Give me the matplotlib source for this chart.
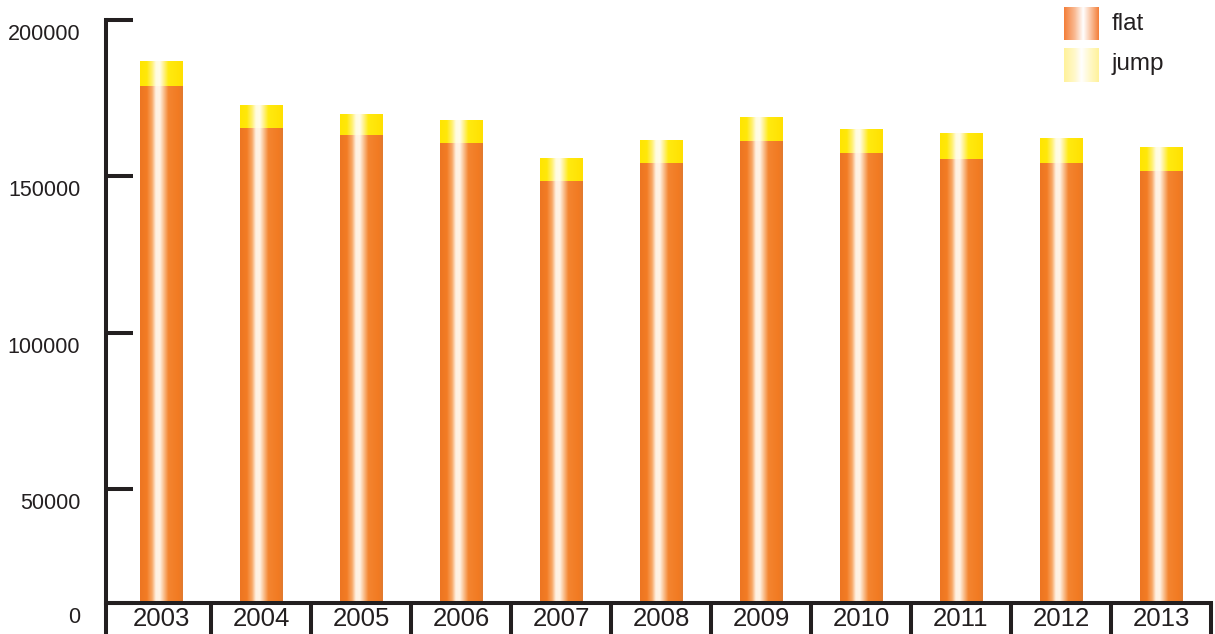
import numpy as np
import matplotlib.pyplot as plt
import matplotlib.transforms as mtransforms
from matplotlib.colors import LinearSegmentedColormap

years = ['2003', '2004', '2005', '2006', '2007', '2008', '2009', '2010', '2011', '2012', '2013']
flat = [178900, 165400, 163200, 160700, 148500, 154300, 161300, 157500, 155500, 154300, 151700]
jump = [8000, 7400, 6700, 7300, 7400, 7300, 7700, 7600, 8300, 8000, 7700]
ytick_vals = [50000, 100000, 150000, 200000]

plt.rcParams['font.family'] = ['Liberation Sans', 'DejaVu Sans']
ink = '#231F20'

# horizontal gradients for the bars (colour - white - colour)
orange_cmap = LinearSegmentedColormap.from_list('orange', [
    (0.0, '#EC7522'), (0.16, '#F37C24'), (0.28, '#F8A766'), (0.37, '#FFF1E2'),
    (0.46, '#FFF3E6'), (0.55, '#FAC394'), (0.66, '#F48530'), (0.9, '#F27A22'), (1.0, '#E07A30')])
yellow_cmap = LinearSegmentedColormap.from_list('yellow', [
    (0.0, '#FFE500'), (0.16, '#FFE80A'), (0.28, '#FFF070'), (0.37, '#FFFCE0'),
    (0.46, '#FFFDEB'), (0.55, '#FFF290'), (0.66, '#FFEA10'), (1.0, '#FFE000')])
flat_leg_cmap = LinearSegmentedColormap.from_list('flatleg', [
    (0.0, '#F47E38'), (0.3, '#F9B890'), (0.55, '#FFFFFF'), (0.8, '#F9B890'), (1.0, '#F47E38')])
jump_leg_cmap = LinearSegmentedColormap.from_list('jumpleg', [
    (0.0, '#FFF29A'), (0.3, '#FFF8C8'), (0.5, '#FFFFFF'), (0.75, '#FFF8C8'), (1.0, '#FFF29A')])
grad = np.linspace(0, 1, 256).reshape(1, -1)

fig = plt.figure(figsize=(12.15, 6.34), dpi=100)
ax = fig.add_axes([106 / 1215, 31 / 634, 1105 / 1215, 583 / 634])

x = np.arange(len(years))
ybot = 13500
bars_flat = ax.bar(x, flat, width=0.43, color='none', edgecolor='none')
bars_jump = ax.bar(x, jump, bottom=flat, width=0.43, color='none', edgecolor='none')

for bars, cmap in [(bars_flat, orange_cmap), (bars_jump, yellow_cmap)]:
    for b in bars:
        x0, y0 = b.get_x(), b.get_y()
        im = ax.imshow(grad, cmap=cmap, aspect='auto', interpolation='bilinear',
                       extent=[x0, x0 + b.get_width(), max(y0, ybot), y0 + b.get_height()], zorder=2)
        im.set_clip_path(b)

ax.set_xlim(-0.55, 10.5)
ax.set_ylim(ybot, 200000)

for s in ['top', 'right']:
    ax.spines[s].set_visible(False)
for s in ['left', 'bottom']:
    ax.spines[s].set_linewidth(2.9)
    ax.spines[s].set_color(ink)
    ax.spines[s].set_zorder(5)

ax.set_yticks([ybot] + ytick_vals)
ax.set_yticklabels(['0'] + [str(v) for v in ytick_vals])
ax.tick_params(axis='y', direction='in', length=19.5, width=2.9, color=ink,
               labelsize=15.5, labelcolor=ink, pad=18.5)

ax.set_xticks(x)
ax.set_xticklabels(years)
ax.set_xticks([-0.55] + list(np.arange(0.5, 11, 1.0)), minor=True)
ax.tick_params(axis='x', which='major', length=0, labelsize=18.5, labelcolor=ink, pad=3)
ax.tick_params(axis='x', which='minor', direction='out', length=22.3, width=2.9, color=ink)

shift = mtransforms.ScaledTranslation(0, -0.12, fig.dpi_scale_trans)
for lbl in ax.get_yticklabels():
    lbl.set_transform(lbl.get_transform() + shift)

# legend
for ypix, h, cmap, name, ty in [(7, 33, flat_leg_cmap, 'flat', 24), (48, 34, jump_leg_cmap, 'jump', 64)]:
    lax = fig.add_axes([1064 / 1215, 1 - (ypix + h) / 634, 35 / 1215, h / 634])
    lax.imshow(grad, cmap=cmap, aspect='auto', interpolation='bilinear')
    lax.axis('off')
    fig.text(1112 / 1215, 1 - ty / 634, name, fontsize=17.5, color=ink, va='center', ha='left')

plt.savefig('out.png', dpi=100)
plt.close()
